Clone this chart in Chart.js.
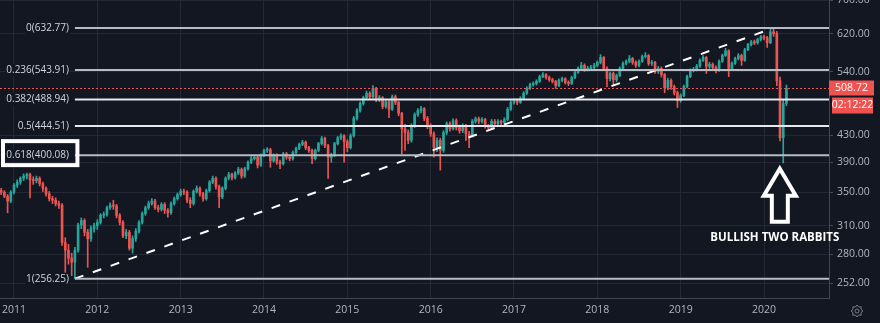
<!DOCTYPE html>
<html><head><meta charset="utf-8">
<script src="https://cdn.jsdelivr.net/npm/chart.js@4.4.1/dist/chart.umd.min.js"></script>
<style>html,body{margin:0;padding:0;background:#131722;overflow:hidden}#wrap{width:880px;height:323px;position:relative}</style>
</head><body><div id="wrap"><canvas id="c" width="880" height="323"></canvas></div>
<script>
// ---- data (biweekly candles) ----
const openStart = 352;
const c2010 = [350,345,339,350];
const h2010 = [355,352,347,352];
const l2010 = [347,343,325,337];
const c2011 = [359,363,368,371,373,366,365,368,361,355,348,342,340,336,334,292,284,276,272,284,311,316,303,296,307,310];
const h2011 = [361,366,370,374,375,375,370,371,370,363,357,351,345,343,339,336,297,290,281,287,313,319,318,306,310,313];
const l2011 = [348,356,360,365,367,343,360,362,358,351,345,339,336,333,330,289,262,270,259,256.25,282,307,299,267,293,303];
const c2012 = [314,322,323,331,334,333,322,314,299,303,286,296,304,314,324,331,336,339,331,329,335,328,325,336,342,347];
const h2012 = [317,324,326,333,337,340,335,324,316,306,305,299,307,316,326,333,339,342,341,334,337,337,330,338,344,349];
const l2012 = [306,312,319,321,329,329,319,311,297,296,284,281,293,302,312,322,329,334,329,326,327,324,320,323,334,340];
const c2013 = [351,350,340,336,351,355,348,342,352,363,368,357,344,355,368,373,369,375,380,371,381,390,395,397,386,400];
const h2013 = [354,354,352,343,353,358,357,350,354,365,371,370,359,357,370,376,375,377,383,382,383,392,398,400,399,402];
const l2013 = [345,347,337,331,334,349,345,339,340,350,361,354,331,342,353,366,366,367,373,368,369,379,388,393,382,384];
const c2014 = [407,408,392,400,390,388,402,397,395,404,410,416,419,411,407,395,407,417,425,414,397,400,417,426,429,420];
const h2014 = [409,411,410,402,402,393,404,404,400,406,412,418,422,421,413,409,409,419,428,427,416,403,419,428,432,431];
const l2014 = [398,404,383,390,387,381,386,394,392,393,402,408,414,408,404,388,393,405,415,411,368,390,398,415,423,390];
const c2015 = [411,429,457,470,482,492,500,494,509,489,492,477,485,472,494,484,465,440,434,422,445,463,470,473,457,445];
const h2015 = [423,432,460,473,485,495,504,503,514,511,496,494,489,488,497,497,486,467,447,438,448,466,473,477,475,460];
const l2015 = [405,409,427,454,467,479,489,490,491,485,485,473,474,458,470,480,461,402,407,417,419,442,460,466,453,440];
const c2016 = [432,411,422,407,434,448,440,453,442,437,445,432,429,452,456,452,455,444,442,452,448,452,450,455,472,484];
const h2016 = [448,435,426,425,437,451,451,456,456,446,448,447,436,455,459,459,458,457,447,455,455,455,454,458,475,487];
const l2016 = [428,397,405,379,404,431,436,438,438,433,434,422,411,427,449,448,449,441,438,440,445,446,446,447,453,470];
const c2017 = [487,484,491,500,509,516,518,522,531,535,529,525,522,514,524,527,520,518,529,539,547,553,545,547,549,553];
const h2017 = [490,490,494,503,512,519,521,525,534,539,537,532,528,524,527,530,529,523,532,542,550,559,556,551,553,557];
const l2017 = [481,480,482,489,498,507,513,515,520,529,526,522,519,509,512,521,517,514,516,527,537,545,541,542,544,546];
const c2018 = [559,569,547,527,537,525,533,547,557,561,567,559,553,561,571,573,557,559,541,547,535,510,524,512,501,487];
const h2018 = [562,575,571,550,540,540,536,550,560,564,573,569,562,564,574,579,575,563,561,551,550,537,528,527,515,504];
const l2018 = [550,556,543,512,523,516,521,531,545,554,558,555,549,550,559,568,553,553,537,537,530,501,506,507,497,475];
const c2019 = [496,512,531,543,545,551,563,569,551,555,549,543,561,573,583,547,557,567,573,563,585,596,602,600,607,613];
const h2019 = [499,515,534,546,549,555,566,573,571,559,558,552,564,576,588,585,560,570,577,576,588,599,605,606,610,616];
const l2019 = [484,494,510,529,540,542,549,561,537,547,545,538,541,559,571,531,543,555,564,553,561,583,593,596,597,604];
const c2020 = [611,600,624,620,523,426,482,508.72];
const h2020 = [617,614,630,632.77,625,530,488,515];
const l2020 = [606,590,598,614,514,421,389,478];

const yearTicks = [2011,2012,2013,2014,2015,2016,2017,2018,2019,2020];
const yTicks = [252,280,310,350,390,430,540,620,700];
const fibRatios = ['0','0.236','0.382','0.5','0.618','1'];
const fibPrices = [632.77,543.91,488.94,444.51,400.08,256.25];
const trendX = [2011.731, 2020.115];
const trendY = [256.25, 632.77];
const arrowAt = [2020.19, 381];
const noteText = 'BULLISH TWO RABBITS';
const countdown = '02:12:22';

// ---- layout / style ----
const xMin = 2010.832, xMax = 2020.78, yMin = 239, yMax = 700;
const BG = '#131722', GRID = '#252936', AXIS = '#434651', TXT = '#b2b5be';
const UP = '#26a69a', DOWN = '#ef5350';
const FONT = '"Open Sans", "Liberation Sans", sans-serif';
const fibColors = ['#b8bbc3','#b8bbc3','#e6e8ee','#e6e8ee','#b8bbc3','#b8bbc3'];

const yearBlocks = [
  [2010,c2010,h2010,l2010,22],[2011,c2011,h2011,l2011,0],[2012,c2012,h2012,l2012,0],
  [2013,c2013,h2013,l2013,0],[2014,c2014,h2014,l2014,0],[2015,c2015,h2015,l2015,0],
  [2016,c2016,h2016,l2016,0],[2017,c2017,h2017,l2017,0],[2018,c2018,h2018,l2018,0],
  [2019,c2019,h2019,l2019,0],[2020,c2020,h2020,l2020,0]
];
const bodies = [], wicks = [];
let prev = openStart;
for (const [yr, cs, hs, ls, off] of yearBlocks) {
  cs.forEach((c, k) => {
    const x = yr + (k + off) / 26;
    bodies.push({x, y: [prev, c]});
    wicks.push({x, y: [ls[k], hs[k]]});
    prev = c;
  });
}
const lastPrice = c2020[c2020.length - 1];
const isUp = i => bodies[i].y[1] >= bodies[i].y[0];

const lineDs = [];
fibPrices.forEach((p, i) => lineDs.push({
  type: 'line', data: [{x: trendX[0], y: p}, {x: xMax, y: p}],
  borderColor: fibColors[i], borderWidth: 2, pointRadius: 0, order: 0
}));
lineDs.push({type:'line', data: [{x: trendX[0], y: trendY[0]}, {x: trendX[1], y: trendY[1]}],
  borderColor: '#ffffff', borderWidth: 2, borderDash: [9, 10], pointRadius: 0, order: 0});
lineDs.push({type:'line', data: [{x: xMin, y: lastPrice}, {x: xMax, y: lastPrice}],
  borderColor: DOWN, borderWidth: 1, borderDash: [2, 2], pointRadius: 0, order: 0});

const deco = {
  id: 'deco',
  beforeDraw(chart) {
    const c = chart.ctx; c.save(); c.fillStyle = BG; c.fillRect(0, 0, chart.width, chart.height); c.restore();
  },
  afterDatasetsDraw(chart) {
    const c = chart.ctx, xs = chart.scales.x, ys = chart.scales.y;
    const x0 = xs.getPixelForValue(trendX[0]);
    c.save();
    c.font = '10px ' + FONT; c.fillStyle = '#d1d4dc'; c.textAlign = 'right'; c.textBaseline = 'middle';
    fibPrices.forEach((p, i) => {
      const y = ys.getPixelForValue(p);
      c.fillStyle = BG; const t = fibRatios[i] + '(' + p.toFixed(2) + ')';
      const w = c.measureText(t).width; c.fillRect(x0 - 7 - w, y - 6, w + 2, 12);
      c.fillStyle = '#d1d4dc'; c.fillText(t, x0 - 6, y);
      if (fibRatios[i] === '0.618') {
        c.strokeStyle = '#ffffff'; c.lineWidth = 4;
        c.strokeRect(3, y - 14, x0 - 0.5, 24);
      }
    });
    c.restore();
  },
  afterDraw(chart) {
    const c = chart.ctx, xs = chart.scales.x, ys = chart.scales.y, area = chart.chartArea;
    c.save();
    // current price labels
    const py = ys.getPixelForValue(lastPrice);
    c.fillStyle = DOWN;
    c.fillRect(area.right, py - 8, 45, 15);
    c.fillRect(area.right + 3, py + 9, 41, 16);
    c.fillStyle = '#ffffff'; c.font = '10.5px ' + FONT; c.textAlign = 'center'; c.textBaseline = 'middle';
    c.fillText(lastPrice.toFixed(2), area.right + 22.5, py);
    c.fillText(countdown, area.right + 23.5, py + 17);
    // arrow
    const tx = xs.getPixelForValue(arrowAt[0]), ty = ys.getPixelForValue(arrowAt[1]);
    c.beginPath();
    c.moveTo(tx, ty); c.lineTo(tx + 16, ty + 27); c.lineTo(tx + 8, ty + 27); c.lineTo(tx + 8, ty + 53);
    c.lineTo(tx - 8, ty + 53); c.lineTo(tx - 8, ty + 27); c.lineTo(tx - 16, ty + 27); c.closePath();
    c.fillStyle = BG; c.fill();
    c.strokeStyle = '#ffffff'; c.lineWidth = 4; c.lineJoin = 'miter'; c.stroke();
    c.font = 'bold 11.5px ' + FONT; c.fillStyle = '#ffffff';
    c.fillText(noteText, tx - 5, ty + 69);
    // gear
    const gx = 857, gy = 311;
    c.strokeStyle = '#787b86'; c.lineWidth = 1; c.beginPath();
    for (let i = 0; i < 16; i++) {
      const a = i * Math.PI / 8, r = (i % 2 === 0) ? 6 : 4.3;
      const px = gx + r * Math.cos(a), pyy = gy + r * Math.sin(a);
      if (i === 0) c.moveTo(px, pyy); else c.lineTo(px, pyy);
    }
    c.closePath(); c.stroke();
    c.beginPath(); c.arc(gx, gy, 2, 0, Math.PI * 2); c.stroke();
    c.restore();
  }
};

new Chart(document.getElementById('c'), {
  type: 'bar',
  data: {
    datasets: [
      ...lineDs,
      {data: bodies, barThickness: 2, minBarLength: 1, grouped: false, order: 1,
       backgroundColor: ctx => isUp(ctx.dataIndex) ? UP : DOWN, borderWidth: 0},
      {data: wicks, barThickness: 1, grouped: false, order: 2,
       backgroundColor: ctx => isUp(ctx.dataIndex) ? UP : DOWN, borderWidth: 0}
    ]
  },
  options: {
    responsive: false, animation: false, devicePixelRatio: 1,
    layout: {padding: 0, autoPadding: false},
    plugins: {legend: {display: false}, tooltip: {enabled: false}},
    scales: {
      x: {
        type: 'linear', min: xMin, max: xMax, offset: false,
        afterBuildTicks: s => { s.ticks = yearTicks.map(v => ({value: v})); },
        afterFit: s => { s.height = 25; s.paddingLeft = 0; s.paddingRight = 0; },
        ticks: {callback: v => String(v), color: TXT, font: {family: FONT, size: 10.5}, maxRotation: 0, autoSkip: false, padding: 6},
        grid: {color: GRID, drawTicks: false, offset: false},
        border: {color: AXIS}
      },
      y: {
        type: 'logarithmic', position: 'right', min: yMin, max: yMax,
        afterBuildTicks: s => { s.ticks = yTicks.map(v => ({value: v})); },
        afterFit: s => { s.width = 51; s.paddingTop = 0; s.paddingBottom = 0; },
        ticks: {callback: v => Number(v).toFixed(2), color: TXT, font: {family: FONT, size: 10.5}, padding: 4, autoSkip: false},
        grid: {color: GRID, tickLength: 4, tickColor: AXIS},
        border: {color: AXIS}
      }
    }
  },
  plugins: [deco]
});
</script></body></html>
